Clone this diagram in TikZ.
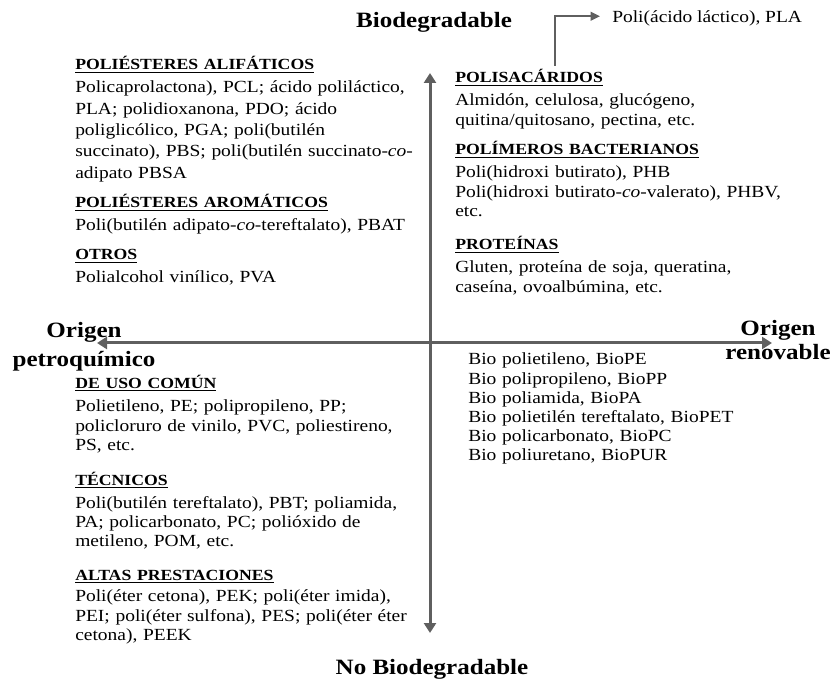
\documentclass[tikz,border=0pt]{standalone}
\usepackage{fontspec}
\setmainfont{Liberation Serif}[FakeStretch=1.145]
\usetikzlibrary{arrows.meta}
\definecolor{axisgray}{RGB}{95,95,95}
\newcommand\hd[1]{{\fontsize{11.6}{14.4}\selectfont\underline{\textbf{#1}}}}
\tikzset{
  sec/.style={anchor=base west, align=left, text width=300pt, inner sep=0pt,
    font=\fontsize{12.75}{14.4}\selectfont},
  secwide/.style={sec, font=\fontsize{12.75}{16}\selectfont},
  ttl/.style={anchor=base, font=\fontsize{16.4}{21.75}\selectfont\bfseries,
    inner sep=0pt},
  ttltwo/.style={ttl, align=center, text width=140pt},
  axis/.style={draw=axisgray, line width=2.25pt,
    {Triangle[length=7.5pt,width=9pt]}-{Triangle[length=7.5pt,width=9pt]}},
  pointer/.style={draw=axisgray, line width=1.5pt, -{Triangle[length=7pt,width=6.5pt]}}
}
\begin{document}
\begin{tikzpicture}[x=0.75pt,y=-0.75pt]
\useasboundingbox (0,0) rectangle (833,681);
% axes
\coordinate (vtop) at (430,73);
\coordinate (vbot) at (430,633);
\coordinate (hl) at (97,343);
\coordinate (hr) at (772,343);
\draw[axis] (vbot) -- (vtop);
\draw[axis] (hl) -- (hr);
% titles
\node[ttl] (bio) at (434,28) {Biodegradable};
\node[ttl] (nobio) at (432,674) {No Biodegradable};
\node[ttltwo] (petro) at (84,338) {Origen\\petroquímico};
\node[ttltwo, font=\fontsize{16.4}{18}\selectfont\bfseries] (renov) at (778,335) {Origen\\renovable};
% top left
\node[secwide] (alif) at (75,70) {\hd{POLIÉSTERES ALIFÁTICOS}\\[1.25pt]
Policaprolactona), PCL; ácido poliláctico,\\
PLA; polidioxanona, PDO; ácido\\
poliglicólico, PGA; poli(butilén\\
succinato), PBS; poli(butilén succinato-\textit{co}-\\
adipato PBSA};
\node[sec] (arom) at (75,208) {\hd{POLIÉSTERES AROMÁTICOS}\\[2.85pt]
Poli(butilén adipato-\textit{co}-tereftalato), PBAT};
\node[sec] (otros) at (75,260) {\hd{OTROS}\\[2.85pt]
Polialcohol vinílico, PVA};
% top right
\node[sec] (polisac) at (455,83) {\hd{POLISACÁRIDOS}\\[2.85pt]
Almidón, celulosa, glucógeno,\\
quitina/quitosano, pectina, etc.};
\node[sec] (bact) at (455,155) {\hd{POLÍMEROS BACTERIANOS}\\[2.85pt]
Poli(hidroxi butirato), PHB\\
Poli(hidroxi butirato-\textit{co}-valerato), PHBV,\\
etc.};
\node[sec] (prot) at (455,250) {\hd{PROTEÍNAS}\\[2.85pt]
Gluten, proteína de soja, queratina,\\
caseína, ovoalbúmina, etc.};
% PLA pointer
\node[sec, text width=] (pla) at (612,23) {Poli(ácido láctico), PLA};
\coordinate (plastart) at (555,66);
\draw[pointer] (plastart) |- ([xshift=-9pt,yshift=2pt]pla.west);
% bottom right
\node[sec] (bioplas) at (468,365) {Bio polietileno, BioPE\\
Bio polipropileno, BioPP\\
Bio poliamida, BioPA\\
Bio polietilén tereftalato, BioPET\\
Bio policarbonato, BioPC\\
Bio poliuretano, BioPUR};
% bottom left
\node[sec] (comun) at (75,388) {\hd{DE USO COMÚN}\\[3.5pt]
Polietileno, PE; polipropileno, PP;\\
policloruro de vinilo, PVC, poliestireno,\\
PS, etc.};
\node[sec] (tecn) at (75,485) {\hd{TÉCNICOS}\\[2.85pt]
Poli(butilén tereftalato), PBT; poliamida,\\
PA; policarbonato, PC; polióxido de\\
metileno, POM, etc.};
\node[sec] (altas) at (75,580) {\hd{ALTAS PRESTACIONES}\\[2.1pt]
Poli(éter cetona), PEK; poli(éter imida),\\
PEI; poli(éter sulfona), PES; poli(éter éter\\
cetona), PEEK};
\end{tikzpicture}
\end{document}
